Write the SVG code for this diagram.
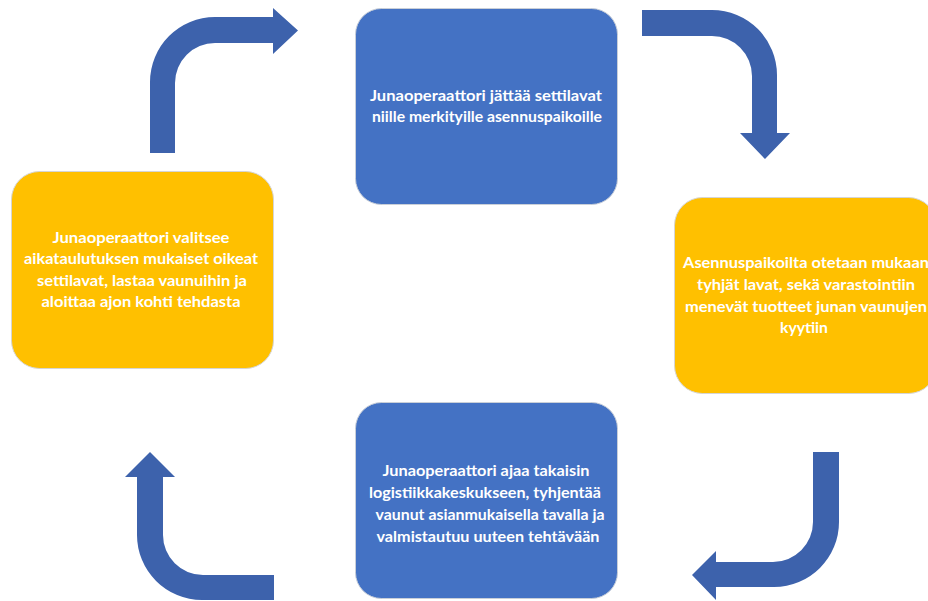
<svg xmlns="http://www.w3.org/2000/svg" width="928" height="601" viewBox="0 0 928 601">
<style>
.blue{fill:#4472C4;stroke:#C9CFD8;stroke-width:1}
.yellow{fill:#FFC000;stroke:#D5D5D5;stroke-width:1}
.arrow{fill:#3D62AC}
text{font-family:Lato,"Liberation Sans",sans-serif;font-weight:bold;font-size:16px;fill:#FFFFFF;text-anchor:middle}
</style>
<rect width="928" height="601" fill="#FFFFFF"/>
<g id="connectors">
<path class="arrow" d="M150,153 L150,82 A65,65 0 0 1 215,17 L273,17 L273,8 L298,30.5 L273,54 L273,43 L215,43 A40,40 0 0 0 175,83 L175,153 Z"/>
<path class="arrow" d="M642,10 L712,10 A65,65 0 0 1 777,75 L777,133 L790,133 L765,159 L740,133 L752,133 L752,76 A40,40 0 0 0 712,36 L642,36 Z"/>
<path class="arrow" d="M813,452 L839,452 L839,522 A65,65 0 0 1 774,587 L716,587 L716,600 L692,575 L716,551 L716,562 L773,562 A40,40 0 0 0 813,522 Z"/>
<path class="arrow" d="M274,600 L202,600 A65,65 0 0 1 137,535 L137,477 L125,477 L150,452 L175,477 L163,477 L163,535 A40,40 0 0 0 203,575 L274,575 Z"/>
</g>
<g id="node-top">
<rect class="blue" x="355.5" y="8.5" width="262" height="196" rx="26"/>
<text x="486" y="101" textLength="232" lengthAdjust="spacingAndGlyphs">Junaoperaattori jättää settilavat</text>
<text x="487" y="122" textLength="230" lengthAdjust="spacingAndGlyphs">niille merkityille asennuspaikoille</text>
</g>
<g id="node-right">
<rect class="yellow" x="674.5" y="197.5" width="262" height="196" rx="28"/>
<text x="806" y="268" textLength="246" lengthAdjust="spacingAndGlyphs">Asennuspaikoilta otetaan mukaan</text>
<text x="806" y="290" textLength="218" lengthAdjust="spacingAndGlyphs">tyhjät lavat, sekä varastointiin</text>
<text x="806" y="312" textLength="242" lengthAdjust="spacingAndGlyphs">menevät tuotteet junan vaunujen</text>
<text x="804" y="333" textLength="48" lengthAdjust="spacingAndGlyphs">kyytiin</text>
</g>
<g id="node-bottom">
<rect class="blue" x="355.5" y="402.5" width="262" height="196" rx="26"/>
<text x="486" y="476" textLength="207" lengthAdjust="spacingAndGlyphs">Junaoperaattori ajaa takaisin</text>
<text x="485" y="498" textLength="232" lengthAdjust="spacingAndGlyphs">logistiikkakeskukseen, tyhjentää</text>
<text x="490" y="520" textLength="229" lengthAdjust="spacingAndGlyphs">vaunut asianmukaisella tavalla ja</text>
<text x="488" y="542" textLength="223" lengthAdjust="spacingAndGlyphs">valmistautuu uuteen tehtävään</text>
</g>
<g id="node-left">
<rect class="yellow" x="11.5" y="171.5" width="262" height="197" rx="28"/>
<text x="141" y="243" textLength="177" lengthAdjust="spacingAndGlyphs">Junaoperaattori valitsee</text>
<text x="141" y="264" textLength="234" lengthAdjust="spacingAndGlyphs">aikataulutuksen mukaiset oikeat</text>
<text x="142" y="286" textLength="210" lengthAdjust="spacingAndGlyphs">settilavat, lastaa vaunuihin ja</text>
<text x="141" y="307" textLength="199" lengthAdjust="spacingAndGlyphs">aloittaa ajon kohti tehdasta</text>
</g>
</svg>
